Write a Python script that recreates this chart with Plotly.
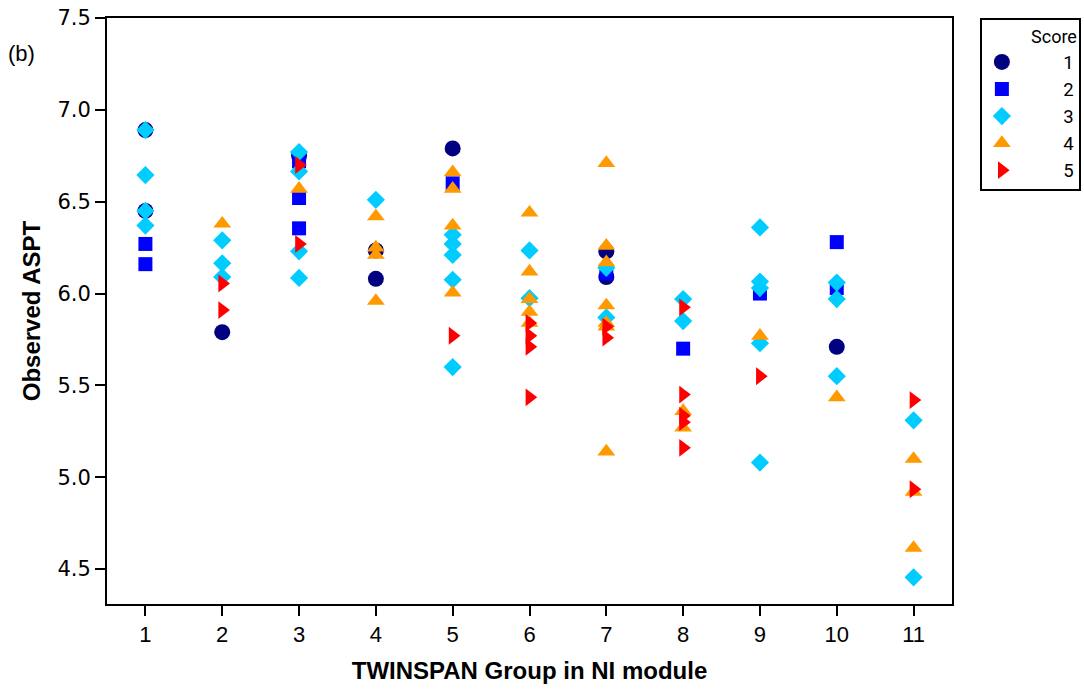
import plotly.graph_objects as go

# Observed ASPT by TWINSPAN group, split by score class
s1_x = [1, 1, 2, 3, 4, 4, 5, 7, 7, 10]
s1_y = [6.89, 6.45, 5.79, 6.75, 6.235, 6.08, 6.79, 6.23, 6.09, 5.71]

s2_x = [1, 1, 3, 3, 3, 5, 7, 8, 9, 10, 10]
s2_y = [6.27, 6.16, 6.72, 6.52, 6.355, 6.60, 6.11, 5.70, 6.00, 6.28, 6.03]

s3_x = [1, 1, 1, 1, 2, 2, 2, 3, 3, 3, 3, 4, 5, 5, 5, 5, 5, 6, 6, 7, 7,
        8, 8, 9, 9, 9, 9, 9, 10, 10, 10, 11, 11]
s3_y = [6.89, 6.645, 6.45, 6.37, 6.29, 6.165, 6.09, 6.77, 6.665, 6.23, 6.085,
        6.51, 6.32, 6.27, 6.21, 6.075, 5.60, 6.235, 5.975, 6.14, 5.87,
        5.97, 5.85, 6.36, 6.065, 6.03, 5.73, 5.08, 6.06, 5.97, 5.55, 5.31, 4.455]

s4_x = [2, 3, 4, 4, 4, 4, 5, 5, 5, 5, 6, 6, 6, 6, 6, 7, 7, 7, 7, 7, 7, 7,
        8, 8, 9, 10, 11, 11, 11]
s4_y = [6.38, 6.57, 6.42, 6.25, 6.21, 5.96, 6.66, 6.57, 6.37, 6.005,
        6.44, 6.12, 5.97, 5.90, 5.84, 6.71, 6.26, 6.17, 5.935, 5.84, 5.82, 5.14,
        5.36, 5.27, 5.77, 5.435, 5.10, 4.92, 4.615]

s5_x = [2, 2, 3, 3, 5, 6, 6, 6, 6, 7, 7, 8, 8, 8, 8, 8, 9, 11, 11]
s5_y = [6.055, 5.91, 6.70, 6.27, 5.77, 5.84, 5.77, 5.71, 5.435, 5.82, 5.76,
        5.925, 5.45, 5.335, 5.30, 5.16, 5.55, 5.42, 4.935]

score_labels = ["1", "2", "3", "4", "5"]
x_ticks = list(range(1, 12))
y_ticks = [4.5, 5.0, 5.5, 6.0, 6.5, 7.0, 7.5]

series = [
    (s1_x, s1_y, "circle", "#000080", 16),
    (s2_x, s2_y, "square", "#0000FF", 14),
    (s3_x, s3_y, "diamond", "#00CCFF", 14),
    (s4_x, s4_y, "triangle-up", "#FF9900", 15.5),
    (s5_x, s5_y, "triangle-right", "#FF0000", 15.5),
]

pad = "\u00a0" * 9
fig = go.Figure()
for (xs, ys, sym, col, sz), lab in zip(series, score_labels):
    fig.add_trace(go.Scatter(
        x=xs, y=ys, mode="markers", name=pad + lab,
        marker=dict(symbol=sym, color=col, size=sz, line=dict(width=0)),
    ))

fig.update_layout(
    width=1084, height=689,
    margin=dict(l=107, r=132, t=18, b=85, autoexpand=False),
    paper_bgcolor="white", plot_bgcolor="white",
    font=dict(family="DejaVu Sans, Liberation Sans, sans-serif", color="black"),
    showlegend=True,
    legend=dict(
        x=1.033, xanchor="left", y=1.0, yanchor="top",
        bordercolor="black", borderwidth=2,
        font=dict(size=18.5, family="Roboto, Liberation Sans, sans-serif"),
        title=dict(text="Score", side="top right",
                   font=dict(size=18, family="Roboto, Liberation Sans, sans-serif")),
        itemwidth=30, tracegroupgap=0,
    ),
    xaxis=dict(
        range=[0.5, 11.5], tickmode="array", tickvals=x_ticks,
        ticktext=[str(v) for v in x_ticks],
        ticks="outside", ticklen=10, tickwidth=1.5, tickcolor="black",
        showline=True, linecolor="black", linewidth=2, mirror=True,
        showgrid=False, zeroline=False,
        tickfont=dict(size=22, family="Liberation Sans Narrow, Liberation Sans, sans-serif"),
        title=dict(text="<b>TWINSPAN Group in NI module</b>", standoff=16,
                   font=dict(size=24, family="Liberation Sans Narrow, Liberation Sans, sans-serif")),
    ),
    yaxis=dict(
        range=[4.31, 7.5], tickmode="array", tickvals=y_ticks,
        ticktext=[f"{v:.1f}" for v in y_ticks],
        ticks="outside", ticklen=10, tickwidth=1.5, tickcolor="black",
        showline=True, linecolor="black", linewidth=2, mirror=True,
        showgrid=False, zeroline=False,
        tickfont=dict(size=21, family="DejaVu Sans, sans-serif"),
        title=dict(text="<b>Observed ASPT</b>", standoff=10,
                   font=dict(size=24, family="Liberation Sans Narrow, Liberation Sans, sans-serif")),
    ),
    annotations=[dict(
        text="(b)", xref="paper", yref="paper", x=-0.12, y=0.94,
        xanchor="left", yanchor="middle", showarrow=False,
        font=dict(size=22, family="Liberation Sans, sans-serif"),
    )],
)

fig.write_html("out.html")
